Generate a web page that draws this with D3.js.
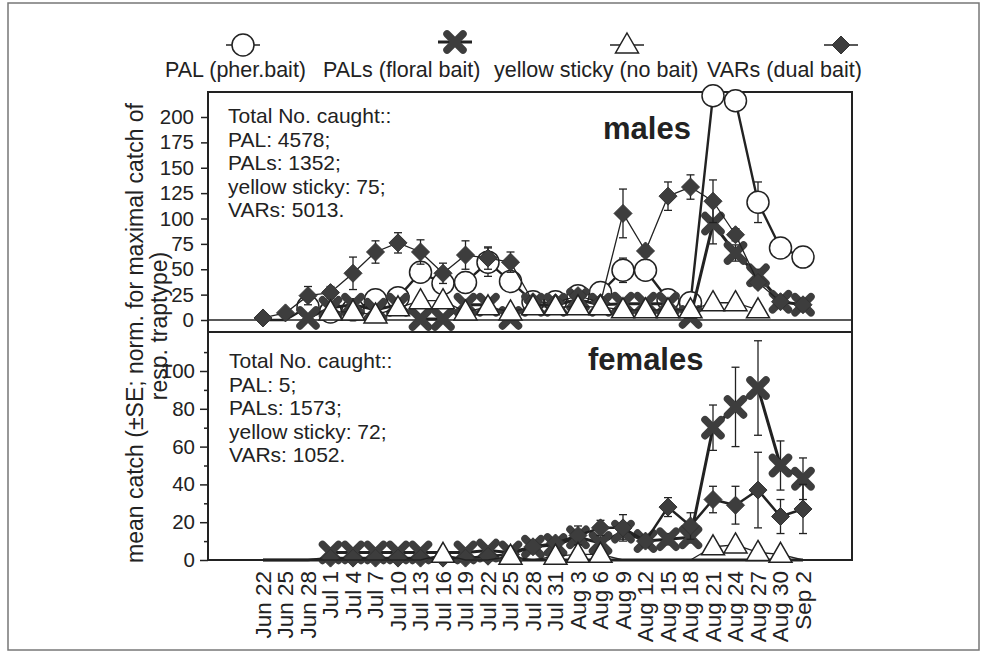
<!DOCTYPE html>
<html>
<head>
<meta charset="utf-8">
<script src="https://cdn.jsdelivr.net/npm/d3@7"></script>
<style>
  body { margin: 0; background: #fff; }
  text { font-family: "Liberation Sans", Arial, sans-serif; fill: #222; }
</style>
</head>
<body>
<svg id="chart" width="983" height="656"></svg>
<script>
// Sampling dates (every third day)
const categories = ["Jun 22","Jun 25","Jun 28","Jul 1","Jul 4","Jul 7","Jul 10","Jul 13","Jul 16","Jul 19",
  "Jul 22","Jul 25","Jul 28","Jul 31","Aug 3","Aug 6","Aug 9","Aug 12","Aug 15","Aug 18",
  "Aug 21","Aug 24","Aug 27","Aug 30","Sep 2"];

// Males: mean catch and SE per trap type
const malePAL      = [0, 0, 13, 8, 10, 20, 22, 47, 36, 37, 57, 38, 18, 18, 24, 27, 49, 49, 20, 17, 221, 216, 116, 71, 62];
const malePALSe    = [0, 0, 4, 3, 3, 4, 4, 10, 8, 10, 14, 8, 3, 3, 4, 4, 12, 10, 4, 3, 0, 0, 20, 6, 5];
const malePALs     = [null, null, 2, 12, 15, 10, 15, 1, 1, 15, 15, 2, 15, 15, 20, 15, 16, 16, 16, 3, 95, 66, 44, 18, 15];
const malePALsSe   = [0, 0, 1, 2, 2, 2, 2, 1, 1, 2, 2, 1, 2, 2, 3, 2, 3, 3, 3, 1, 20, 8, 6, 3, 3];
const maleVARs     = [2, 7, 24, 27, 46, 67, 76, 67, 46, 64, 61, 57, 18, 17, 24, 17, 105, 68, 122, 131, 117, 84, 37, 18, 15];
const maleVARsSe   = [1, 2, 9, 6, 16, 11, 10, 12, 10, 14, 11, 10, 3, 3, 4, 3, 24, 5, 14, 12, 21, 6, 5, 3, 3];
const maleYellow   = [null, null, null, 8, 8, 5, 12, 19, 19, 8, 13, 8, 13, 13, 13, 13, 10, 10, 10, 10, 17, 17, 10, null, null];
const maleYellowSe = [0, 0, 0, 2, 2, 2, 3, 3, 3, 2, 3, 2, 3, 3, 3, 3, 3, 3, 3, 3, 4, 4, 3, 0, 0];

// Females: mean catch and SE per trap type
const femPAL      = [0, 0, 0, 0, 0, 0, 0, 0, 0, 0, 0, 0, 0, 0, 0, 0, 0, 0, 0, 0, 0, 0, 0, 0, 0];
const femPALSe    = [0, 0, 0, 0, 0, 0, 0, 0, 0, 0, 0, 0, 0, 0, 0, 0, 0, 0, 0, 0, 0, 0, 0, 0, 0];
const femPALs     = [null, null, null, 4, 4, 4, 4, 4, null, 4, 5, 4, 7, 8, 12, 9, 15, 10, 11, 12, 70, 81, 91, 50, 43];
const femPALsSe   = [0, 0, 0, 1, 1, 1, 1, 1, 0, 1, 1, 1, 2, 2, 3, 3, 4, 3, 3, 3, 12, 21, 25, 13, 11];
const femVARs     = [0, 0, 0, 1, 1, 1, 1, 1, 1, 1, 2, 3, 7, 9, 13, 17, 17, 10, 28, 18, 32, 29, 37, 23, 27];
const femVARsSe   = [0, 0, 0, 0, 0, 0, 0, 0, 0, 0, 1, 1, 2, 2, 5, 4, 7, 3, 5, 7, 7, 10, 20, 9, 13];
const femYellow   = [0, 0, 0, 0, 0, 0, 0, 0, 3, 0, 0, 2, 0, 2, 3, 3, 0, 0, 0, 0, 7, 8, 4, 3, 0];
const femYellowSe = [0, 0, 0, 0, 0, 0, 0, 0, 1, 0, 0, 1, 0, 1, 1, 1, 0, 0, 0, 0, 2, 2, 1, 1, 0];

// Y-axis ticks
const maleTicks = [0, 25, 50, 75, 100, 125, 150, 175, 200];
const femTicks = [0, 20, 40, 60, 80, 100];
const femMinorTicks = [10, 30, 50, 70, 90, 110];

// Legend and annotation texts
const legendLabels = ["PAL (pher.bait)", "PALs (floral bait)", "yellow sticky (no bait)", "VARs (dual bait)"];
const maleTotals = ["Total No. caught::", "PAL: 4578;", "PALs: 1352;", "yellow sticky: 75;", "VARs: 5013."];
const femTotals  = ["Total No. caught::", "PAL: 5;", "PALs: 1573;", "yellow sticky: 72;", "VARs: 1052."];

const svg = d3.select("#chart");
const ink = "#222";
const markFill = "#3d3d3d";

// outer border
svg.append("rect").attr("x", 8).attr("y", 3).attr("width", 971).attr("height", 647)
  .attr("fill", "none").attr("stroke", "#777").attr("stroke-width", 1.5);

const left = 208, right = 852;
const x = d3.scalePoint().domain(categories).range([263, 803]);
const yTop = d3.scaleLinear().domain([0, 200]).range([320, 117]);
const yBot = d3.scaleLinear().domain([0, 100]).range([560, 371]);

// symbol painters
const symbols = {
  circle: (g) => g.append("circle").attr("r", 11).attr("fill", "#fff").attr("stroke", ink).attr("stroke-width", 1.5),
  cross: (g) => g.append("path").attr("d", "M-8,-8L8,8M-8,8L8,-8")
      .attr("stroke", markFill).attr("stroke-width", 7.5).attr("stroke-linecap", "round").attr("fill", "none"),
  triangle: (g) => g.append("path").attr("d", "M0,-12L11.5,8L-11.5,8Z")
      .attr("fill", "#fff").attr("stroke", ink).attr("stroke-width", 1.5),
  diamond: (g) => g.append("path").attr("d", "M0,-9L9,0L0,9L-9,0Z")
      .attr("fill", markFill).attr("stroke", "#333").attr("stroke-width", 1)
};

function drawSeries(g, y, vals, se, sym, lw) {
  const pts = categories.map((c, i) => ({c, v: vals[i], e: se[i]})).filter(d => d.v !== null);
  // error bars
  const eb = g.append("g").attr("stroke", ink).attr("stroke-width", 1.3);
  pts.filter(d => d.e > 0 && d.v > 0).forEach(d => {
    const cx = x(d.c), y1 = y(d.v + d.e), y0 = y(Math.max(d.v - d.e, 0));
    eb.append("line").attr("x1", cx).attr("x2", cx).attr("y1", y1).attr("y2", y0);
    eb.append("line").attr("x1", cx - 4).attr("x2", cx + 4).attr("y1", y1).attr("y2", y1);
    eb.append("line").attr("x1", cx - 4).attr("x2", cx + 4).attr("y1", y0).attr("y2", y0);
  });
  // connecting line
  g.append("path").datum(pts)
    .attr("d", d3.line().x(d => x(d.c)).y(d => y(d.v)))
    .attr("fill", "none").attr("stroke", ink).attr("stroke-width", lw).attr("stroke-linejoin", "round");
  // markers (no marker where the mean is zero)
  pts.filter(d => d.v > 0).forEach(d => {
    symbols[sym](g.append("g").attr("transform", `translate(${x(d.c)},${y(d.v)})`));
  });
}

// ---------- panel frames ----------
svg.append("rect").attr("x", left).attr("y", 92).attr("width", right - left).attr("height", 240)
  .attr("fill", "none").attr("stroke", ink).attr("stroke-width", 2);
svg.append("rect").attr("x", left).attr("y", 332).attr("width", right - left).attr("height", 228)
  .attr("fill", "none").attr("stroke", ink).attr("stroke-width", 2);
svg.append("line").attr("x1", left).attr("x2", right).attr("y1", yTop(0)).attr("y2", yTop(0))
  .attr("stroke", ink).attr("stroke-width", 1.5);

// ---------- axes ----------
const axTop = svg.append("g").attr("transform", `translate(${left},0)`)
  .call(d3.axisLeft(yTop).tickValues(maleTicks).tickSize(7).tickPadding(7));
const axBot = svg.append("g").attr("transform", `translate(${left},0)`)
  .call(d3.axisLeft(yBot).tickValues(femTicks).tickSize(8).tickPadding(5));
const axBotMinor = svg.append("g").attr("transform", `translate(${left},0)`)
  .call(d3.axisLeft(yBot).tickValues(femMinorTicks).tickSize(4).tickFormat(""));
[axTop, axBot, axBotMinor].forEach(a => {
  a.select(".domain").remove();
  a.selectAll("line").attr("stroke", ink).attr("stroke-width", 1.5);
  a.selectAll("text").style("font-size", "20.5px").attr("fill", ink)
    .style("font-family", "'Liberation Sans', Arial, sans-serif");
});

// x labels
svg.append("g").selectAll("text").data(categories).join("text")
  .attr("transform", d => `translate(${x(d)},571) rotate(-90)`)
  .attr("text-anchor", "end").attr("dy", "0.35em")
  .style("font-size", "22.5px").text(d => d);

// y title
svg.append("text").attr("transform", "translate(143,333) rotate(-90)").attr("text-anchor", "middle")
  .style("font-size", "23px").text("mean catch (\u00b1SE; norm. for maximal catch of");
svg.append("text").attr("transform", "translate(167,326) rotate(-90)").attr("text-anchor", "middle")
  .style("font-size", "23px").text("resp. traptype)");

// ---------- series ----------
const gTop = svg.append("g");
drawSeries(gTop, yTop, malePAL, malePALSe, "circle", 2.4);
drawSeries(gTop, yTop, malePALs, malePALsSe, "cross", 3);
drawSeries(gTop, yTop, maleVARs, maleVARsSe, "diamond", 1.3);
drawSeries(gTop, yTop, maleYellow, maleYellowSe, "triangle", 1.3);

const gBot = svg.append("g");
drawSeries(gBot, yBot, femPAL, femPALSe, "circle", 3);
drawSeries(gBot, yBot, femPALs, femPALsSe, "cross", 3);
drawSeries(gBot, yBot, femVARs, femVARsSe, "diamond", 2.5);
drawSeries(gBot, yBot, femYellow, femYellowSe, "triangle", 1.3);

// ---------- annotations ----------
maleTotals.forEach((t, i) => svg.append("text").attr("x", 228).attr("y", 123 + i * 23.5)
  .style("font-size", "21px").text(t));
femTotals.forEach((t, i) => svg.append("text").attr("x", 229).attr("y", 368 + i * 23.5)
  .style("font-size", "21px").text(t));
svg.append("text").attr("x", 603).attr("y", 139).style("font-size", "31px").style("font-weight", "bold")
  .attr("fill", "#333").text("males");
svg.append("text").attr("x", 588).attr("y", 370).style("font-size", "31px").style("font-weight", "bold")
  .attr("fill", "#333").text("females");

// ---------- legend ----------
const legendSyms = ["circle", "cross", "triangle", "diamond"];
const legendSymX = [243, 455, 627, 841];
const legendSymY = [45, 42, 45, 45];
const legendTextX = [165, 323, 494, 707];
legendLabels.forEach((lab, i) => {
  const g = svg.append("g").attr("transform", `translate(${legendSymX[i]},${legendSymY[i]})`);
  g.append("line").attr("x1", -17).attr("x2", 17).attr("stroke", ink).attr("stroke-width", i === 1 ? 3 : 1.5);
  symbols[legendSyms[i]](g);
  svg.append("text").attr("x", legendTextX[i]).attr("y", 77).style("font-size", "21.5px").text(lab);
});
</script>
</body>
</html>
